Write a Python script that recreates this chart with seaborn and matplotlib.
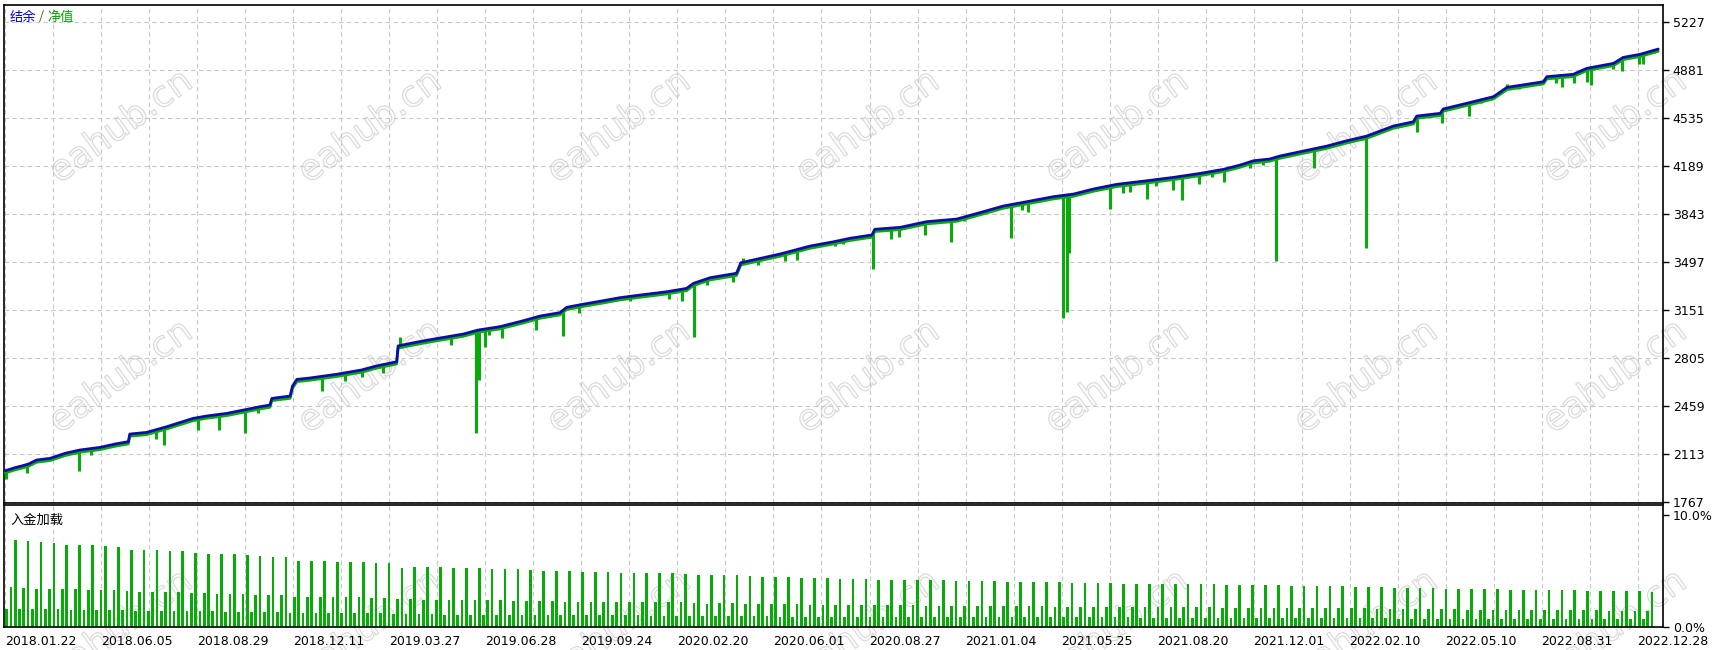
import matplotlib
matplotlib.use('Agg')
import numpy as np
import matplotlib.pyplot as plt
import matplotlib.patheffects as pe
import seaborn as sns

# 结余曲线: x = 成交序号位置, y = 余额
bal_x = [0.0, 2.0, 3.4, 4.8, 6.5, 9.3, 12.4, 15.5, 19.7, 22.8,
         25.6, 25.9, 29.4, 33.6, 39.1, 41.9, 46.1, 50.3, 53.0, 55.1,
         55.5, 59.3, 59.8, 60.7, 63.4, 69.0, 74.2, 77.3, 81.5, 81.8,
         85.0, 88.1, 90.5, 95.4, 98.5, 103.0, 107.9, 111.4, 115.5, 116.9,
         119.7, 124.5, 128.0, 132.2, 137.8, 141.9, 143.3, 146.8, 152.3, 153.2,
         155.8, 161.4, 167.6, 172.5, 175.9, 180.5, 181.1, 186.4, 191.9, 198.2,
         203.0, 207.9, 212.8, 218.3, 222.5, 226.6, 231.5, 237.8, 243.3, 248.9,
         253.7, 257.2, 260.0, 263.4, 265.5, 269.7, 275.3, 279.4, 283.6, 289.1,
         293.3, 294.0, 298.9, 299.5, 304.4, 310.0, 312.8, 316.9, 320.4, 321.1,
         326.6, 329.4, 335.0, 337.0, 340.5, 344.3]
bal_y = [1993, 2015, 2027, 2041, 2070, 2082, 2118, 2142, 2161, 2185,
         2202, 2257, 2269, 2310, 2370, 2387, 2406, 2435, 2454, 2466,
         2514, 2531, 2603, 2651, 2661, 2688, 2719, 2748, 2778, 2892,
         2915, 2935, 2949, 2978, 3007, 3031, 3074, 3108, 3132, 3170,
         3189, 3218, 3240, 3259, 3283, 3307, 3343, 3384, 3416, 3492,
         3512, 3555, 3612, 3643, 3668, 3692, 3733, 3747, 3788, 3807,
         3853, 3901, 3932, 3968, 3987, 4023, 4057, 4083, 4107, 4136,
         4165, 4196, 4227, 4240, 4261, 4292, 4333, 4371, 4405, 4477,
         4508, 4549, 4569, 4600, 4641, 4689, 4756, 4778, 4797, 4833,
         4850, 4893, 4929, 4972, 4994, 5032]

# 净值尖峰 (净值的最低/最高点)
dip_x = [0.2, 4.4, 15.3, 17.8, 31.4, 33.0, 40.2, 44.5, 50.0, 52.7,
         65.9, 70.7, 74.2, 78.6, 82.2, 92.8, 98.0, 98.6, 99.9, 100.8,
         103.4, 110.5, 116.1, 119.5, 130.1, 138.3, 140.9, 143.5, 146.2, 151.6,
         153.6, 156.8, 162.3, 165.0, 172.8, 174.5, 180.8, 184.5, 186.2, 191.6,
         197.0, 199.7, 209.4, 211.7, 213.1, 220.3, 221.1, 221.6, 230.0, 232.8,
         234.3, 237.9, 239.7, 243.3, 245.2, 248.6, 251.4, 253.9, 259.3, 262.0,
         264.6, 272.7, 283.4, 294.1, 299.2, 304.8, 307.3, 312.9, 315.4, 323.0,
         324.2, 326.8, 329.4, 330.3, 334.8, 336.7, 340.2, 341.1, 343.4]
dip_y = [1931, 1974, 1993, 2106, 2219, 2178, 2286, 2286, 2262, 2411,
         2567, 2641, 2670, 2699, 2959, 2899, 2262, 2646, 2882, 2969,
         2947, 3007, 2964, 3132, 3216, 3230, 3216, 2959, 3331, 3355,
         3524, 3475, 3504, 3511, 3615, 3627, 3444, 3663, 3675, 3692,
         3643, 3795, 3668, 3872, 3860, 3091, 3139, 3560, 3877, 3997,
         4004, 3949, 4045, 4016, 3944, 4059, 4112, 4076, 4172, 4196,
         3501, 4172, 3596, 4436, 4501, 4552, 4645, 4780, 4742, 4789,
         4761, 4789, 4797, 4773, 4886, 4876, 4924, 4924, 5001]

# 入金加载 (%), 每组三根: 低 / 中 / 高
load_high = [7.76, 7.67, 7.58, 7.49, 7.31, 7.31, 7.31, 7.22, 7.14, 6.87,
             6.87, 6.87, 6.78, 6.78, 6.60, 6.51, 6.51, 6.51, 6.42, 6.33,
             6.24, 6.24, 5.88, 5.88, 5.88, 5.79, 5.79, 5.79, 5.70, 5.70,
             5.25, 5.34, 5.34, 5.34, 5.25, 5.25, 5.25, 5.17, 5.17, 5.17,
             5.08, 5.02, 5.02, 4.99, 4.90, 4.90, 4.93, 4.84, 4.84, 4.84,
             4.84, 4.84, 4.72, 4.63, 4.63, 4.63, 4.63, 4.54, 4.45, 4.45,
             4.45, 4.36, 4.36, 4.36, 4.27, 4.27, 4.27, 4.18, 4.18, 4.18,
             4.18, 4.18, 4.18, 4.09, 4.09, 4.09, 4.09, 4.00, 4.00, 4.00,
             4.00, 4.00, 3.91, 3.91, 3.91, 3.91, 3.82, 3.82, 3.82, 3.82,
             3.82, 3.82, 3.82, 3.82, 3.73, 3.73, 3.73, 3.73, 3.73, 3.64,
             3.64, 3.64, 3.64, 3.64, 3.55, 3.55, 3.55, 3.46, 3.46, 3.46,
             3.46, 3.37, 3.37, 3.37, 3.37, 3.37, 3.28, 3.28, 3.28, 3.28,
             3.28, 3.28, 3.20, 3.20, 3.20, 3.20, 3.20, 3.11]
load_mid = [3.55, 3.46, 3.37, 3.37, 3.37, 3.37, 3.28, 3.28, 3.28, 3.20,
            3.11, 3.11, 3.11, 3.11, 2.99, 2.99, 2.93, 2.93, 2.93, 2.84,
            2.84, 2.84, 2.66, 2.66, 2.66, 2.66, 2.66, 2.66, 2.57, 2.57,
            2.48, 2.48, 2.39, 2.39, 2.39, 2.39, 2.39, 2.39, 2.39, 2.30,
            2.30, 2.30, 2.30, 2.21, 2.21, 2.21, 2.21, 2.21, 2.21, 2.21,
            2.21, 2.21, 2.21, 2.09, 2.03, 2.09, 2.09, 2.03, 2.03, 2.03,
            2.03, 2.03, 1.94, 1.94, 1.94, 1.94, 1.94, 1.94, 1.94, 1.94,
            1.94, 1.85, 1.85, 1.85, 1.85, 1.85, 1.85, 1.85, 1.85, 1.85,
            1.85, 1.73, 1.73, 1.73, 1.73, 1.73, 1.73, 1.73, 1.73, 1.73,
            1.73, 1.73, 1.73, 1.73, 1.67, 1.67, 1.67, 1.67, 1.67, 1.67,
            1.67, 1.67, 1.67, 1.67, 1.67, 1.67, 1.58, 1.58, 1.58, 1.58,
            1.58, 1.58, 1.58, 1.49, 1.49, 1.49, 1.49, 1.49, 1.49, 1.49,
            1.49, 1.49, 1.49, 1.49, 1.40, 1.40, 1.40, 1.40]
load_low = [1.58, 1.58, 1.58, 1.58, 1.58, 1.49, 1.49, 1.49, 1.49, 1.49,
            1.40, 1.40, 1.40, 1.40, 1.40, 1.40, 1.40, 1.31, 1.31, 1.31,
            1.31, 1.31, 1.22, 1.22, 1.22, 1.22, 1.22, 1.22, 1.22, 1.22,
            1.14, 1.14, 1.14, 1.14, 1.05, 1.05, 1.05, 1.05, 1.05, 1.05,
            1.05, 1.05, 1.05, 1.05, 1.05, 1.05, 1.05, 1.05, 1.05, 1.05,
            0.96, 0.96, 0.96, 0.96, 0.96, 0.96, 0.96, 0.96, 0.96, 0.96,
            0.84, 0.84, 0.84, 0.84, 0.84, 0.84, 0.84, 0.84, 0.84, 0.84,
            0.84, 0.84, 0.84, 0.84, 0.84, 0.84, 0.84, 0.84, 0.84, 0.84,
            0.84, 0.84, 0.84, 0.84, 0.84, 0.84, 0.84, 0.84, 0.75, 0.75,
            0.75, 0.75, 0.75, 0.75, 0.75, 0.75, 0.75, 0.75, 0.75, 0.75,
            0.75, 0.75, 0.75, 0.75, 0.75, 0.75, 0.75, 0.75, 0.66, 0.66,
            0.66, 0.66, 0.66, 0.66, 0.66, 0.66, 0.66, 0.66, 0.66, 0.66,
            0.66, 0.66, 0.66, 0.66, 0.66, 0.66, 0.66, 0.66]

date_labels = ['2018.01.22', '2018.06.05', '2018.08.29', '2018.12.11', '2019.03.27',
               '2019.06.28', '2019.09.24', '2020.02.20', '2020.06.01', '2020.08.27',
               '2021.01.04', '2021.05.25', '2021.08.20', '2021.12.01', '2022.02.10',
               '2022.05.10', '2022.08.31', '2022.12.28']
bal_ticks = [1767, 2113, 2459, 2805, 3151, 3497, 3843, 4189, 4535, 4881, 5227]

sns.set_style('white')
plt.rcParams['font.family'] = ['DejaVu Sans']
CJK = ['Noto Sans CJK SC', 'DejaVu Sans']

BLUE = '#0c0caa'
GREEN = '#08ac08'
GRIDC = '#c8c8c8'
W, H = 1728, 650

fig = plt.figure(figsize=(W / 100, H / 100), dpi=100)
fig.patch.set_facecolor('white')
# 上: 结余/净值, 下: 入金加载
ax = fig.add_axes([4 / W, 1 - 503.3 / H, 1659 / W, 498.6 / H])
ax2 = fig.add_axes([4 / W, 1 - 626.7 / H, 1659 / W, 121.7 / H])
for a in (ax, ax2):
    a.set_facecolor('none')
    for s in a.spines.values():
        s.set_color('black')
        s.set_linewidth(1.2)

xmax = 345.3
grid_ticks = np.arange(0, 341, 10)

# 水印 (最下一行本来就被图边截断)
for wy in (127, 377, 627):
    for wx in (121, 370, 619, 868, 1117, 1366, 1615):
        fig.text(wx / W, 1 - wy / H, 'eahub.cn', rotation=36, ha='center', va='center',
                 fontsize=26, color='none', zorder=-1,
                 path_effects=[pe.withStroke(linewidth=0.9, foreground='#dadada')])

# 净值尖峰
tops = np.interp(dip_x, bal_x, bal_y)
ax.vlines(dip_x, dip_y, tops, color=GREEN, lw=2.2, zorder=3)

# 结余线 (绿色净值在下方略微露出)
sns.lineplot(x=bal_x, y=bal_y, ax=ax, color=BLUE, lw=2.0, estimator=None, zorder=4,
             path_effects=[pe.SimpleLineShadow(offset=(0, -1.6), shadow_color=GREEN,
                                               alpha=1, rho=1), pe.Normal()])

ax.set_xlim(-0.3, xmax)
ax.set_ylim(1758, 5352)
ax.set_xticks(grid_ticks)
ax.set_xticklabels([])
ax.set_yticks(bal_ticks)
ax.yaxis.tick_right()
ax.tick_params(axis='x', length=0)
ax.tick_params(axis='y', direction='out', length=4, width=1, labelsize=9, pad=3, colors='black')
ax.grid(True, color=GRIDC, lw=0.8, ls=(0, (4, 3)))
ax.set_xlabel('')
ax.set_ylabel('')

t1 = ax.text(10 / W, 1 - 17 / H, '结余', transform=fig.transFigure, color='#0000c8',
             fontsize=9.5, family=CJK, va='center')
t2 = ax.annotate(' / ', xy=(1, 0), xycoords=t1, va='bottom', color='#7a4a00',
                 fontsize=9.5, family=CJK)
ax.annotate('净值', xy=(1, 0), xycoords=t2, va='bottom', color='#00a000',
            fontsize=9.5, family=CJK)

# 入金加载柱
k = np.arange(len(load_high))
x_high = 2.04 + 2.685 * k
ax2.bar(x_high - 1.8, load_low, width=0.55, color=GREEN, linewidth=0)
ax2.bar(x_high - 0.9, load_mid, width=0.55, color=GREEN, linewidth=0)
ax2.bar(x_high, load_high, width=0.55, color=GREEN, linewidth=0)

ax2.set_xlim(-0.3, xmax)
ax2.set_ylim(0, 10.9)
ax2.set_yticks([0, 10])
ax2.set_yticklabels(['0.0%', '10.0%'])
ax2.yaxis.tick_right()
ax2.tick_params(axis='y', direction='out', length=4, width=1, labelsize=9, pad=3, colors='black')
labels = []
for i in range(len(grid_ticks)):
    labels.append(date_labels[i // 2] if i % 2 == 0 else '')
ax2.set_xticks(grid_ticks)
ax2.set_xticklabels(labels)
ax2.tick_params(axis='x', direction='out', length=4, width=1, labelsize=9, pad=2, colors='black')
for lb in ax2.get_xticklabels():
    lb.set_ha('left')
ax2.grid(True, axis='x', color=GRIDC, lw=0.8, ls=(0, (4, 3)))
ax2.text(10 / W, 1 - 520 / H, '入金加载', transform=fig.transFigure, color='black',
         fontsize=9.5, family=CJK, va='center')

fig.savefig('out.png', dpi=100)
